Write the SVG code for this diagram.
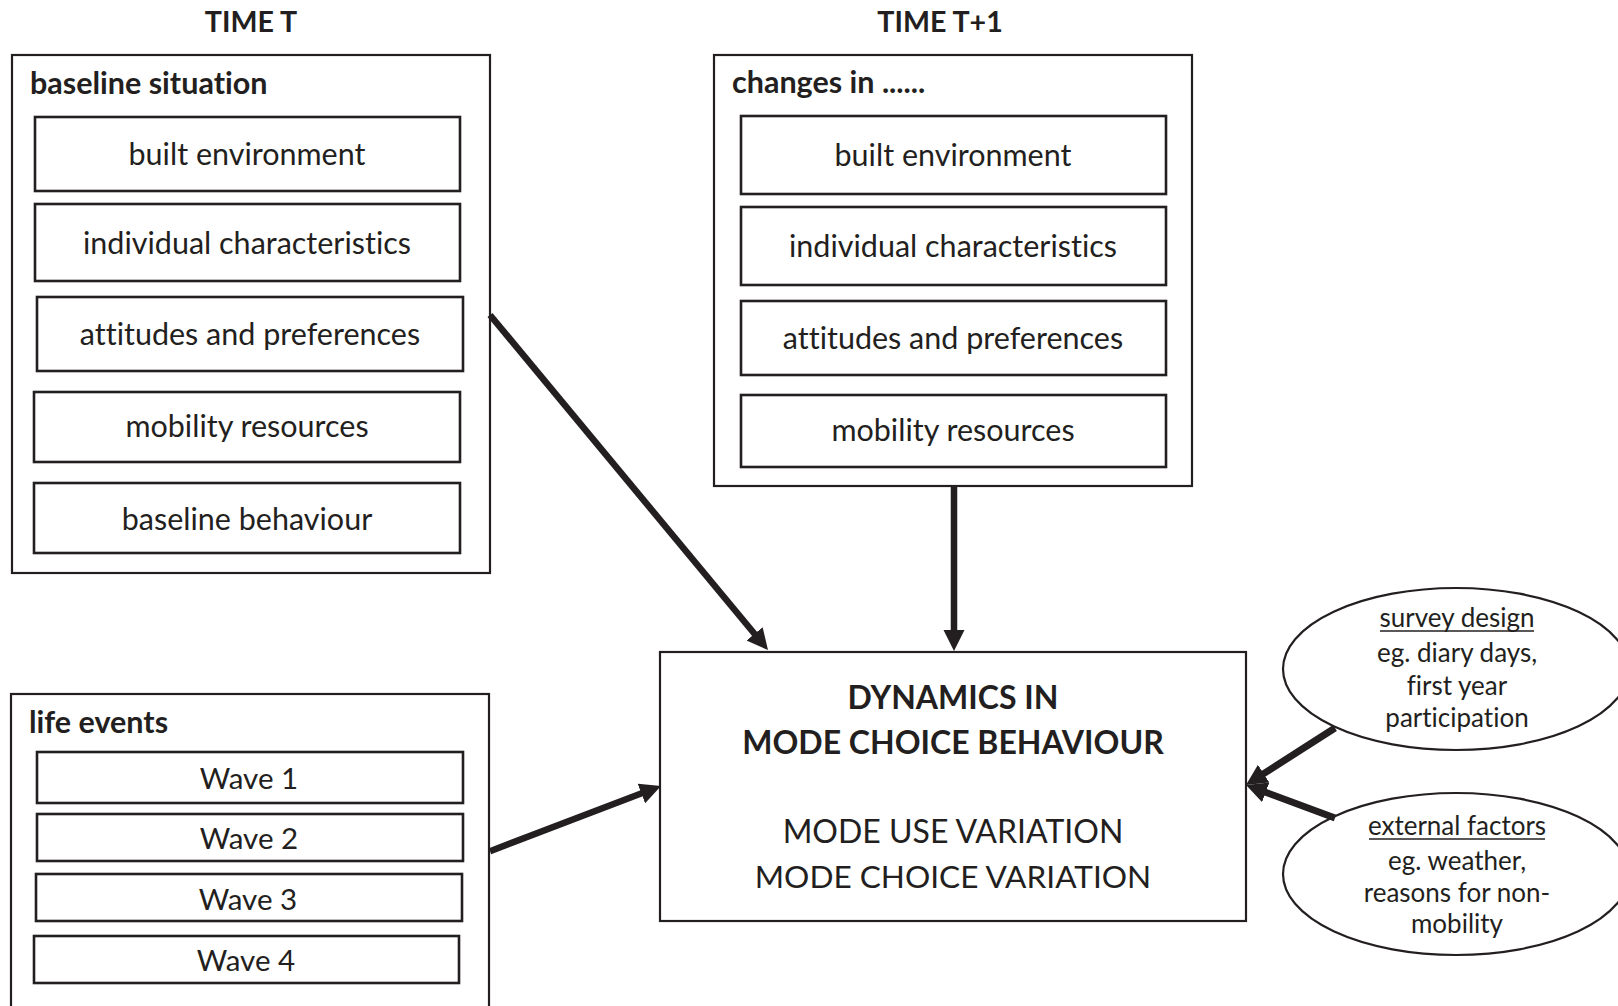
<svg xmlns="http://www.w3.org/2000/svg" width="1618" height="1006" viewBox="0 0 1618 1006">
<style>
text{font-family:Lato,"Open Sans",sans-serif;fill:#231f20;font-variant-ligatures:none}
.box{fill:#fff;stroke:#231f20;stroke-width:2.2}
.inner{fill:#fff;stroke:#231f20;stroke-width:2.6}
.t{font-size:30.5px;text-anchor:middle}
.w{font-size:29.5px;text-anchor:middle}
.h{font-size:30.5px;font-weight:bold}
.hc{font-size:28.6px;font-weight:bold;text-anchor:middle}
.big{font-size:32px;text-anchor:middle}
.bigb{font-size:32px;font-weight:bold;text-anchor:middle}
.e{font-size:26px;text-anchor:middle}
.ul{stroke:#231f20;stroke-width:1.6}
.arr{stroke:#231f20;stroke-width:6.5;fill:none}
.arr2{stroke:#231f20;stroke-width:7;fill:none}
</style>
<defs>
<marker id="ah" markerUnits="userSpaceOnUse" markerWidth="22" markerHeight="22" refX="6" refY="10.5" orient="auto">
<path d="M0,0 L21,10.5 L0,21 Z" fill="#231f20"/>
</marker>
</defs>

<text class="hc" x="251" y="32">TIME T</text>
<text class="hc" x="940" y="32">TIME T+1</text>

<g id="baseline">
<rect class="box" x="12" y="55" width="478" height="518"/>
<text class="h" x="30" y="94">baseline situation</text>
<g id="b-built"><rect class="inner" x="35" y="117" width="425" height="74"/><text class="t" x="247" y="165">built environment</text></g>
<g id="b-indiv"><rect class="inner" x="35" y="204" width="425" height="77"/><text class="t" x="247" y="254">individual characteristics</text></g>
<g id="b-att"><rect class="inner" x="37" y="297" width="426" height="74"/><text class="t" x="250" y="345">attitudes and preferences</text></g>
<g id="b-mob"><rect class="inner" x="34" y="392" width="426" height="70"/><text class="t" x="247" y="437">mobility resources</text></g>
<g id="b-beh"><rect class="inner" x="34" y="483" width="426" height="70"/><text class="t" x="247" y="530">baseline behaviour</text></g>
</g>

<g id="changes">
<rect class="box" x="714" y="55" width="478" height="431"/>
<text class="h" x="732" y="93">changes in ......</text>
<g id="c-built"><rect class="inner" x="741" y="116" width="425" height="78"/><text class="t" x="953" y="166">built environment</text></g>
<g id="c-indiv"><rect class="inner" x="741" y="207" width="425" height="78"/><text class="t" x="953" y="257">individual characteristics</text></g>
<g id="c-att"><rect class="inner" x="741" y="301" width="425" height="74"/><text class="t" x="953" y="349">attitudes and preferences</text></g>
<g id="c-mob"><rect class="inner" x="741" y="395" width="425" height="72"/><text class="t" x="953" y="441">mobility resources</text></g>
</g>

<g id="life">
<rect class="box" x="11" y="694" width="478" height="330"/>
<text class="h" x="29" y="733">life events</text>
<g id="w1"><rect class="inner" x="37" y="752" width="426" height="51"/><text class="w" x="249" y="789">Wave 1</text></g>
<g id="w2"><rect class="inner" x="37" y="814" width="426" height="47"/><text class="w" x="249" y="849">Wave 2</text></g>
<g id="w3"><rect class="inner" x="36" y="874" width="426" height="47"/><text class="w" x="248" y="910">Wave 3</text></g>
<g id="w4"><rect class="inner" x="34" y="936" width="425" height="47"/><text class="w" x="246" y="971">Wave 4</text></g>
</g>

<g id="dynamics">
<rect class="box" x="660" y="652" width="586" height="269"/>
<text class="bigb" x="953" y="709">DYNAMICS IN</text>
<text class="bigb" x="953" y="754">MODE CHOICE BEHAVIOUR</text>
<text class="big" x="953" y="843">MODE USE VARIATION</text>
<text class="big" x="953" y="888" style="font-size:31.6px">MODE CHOICE VARIATION</text>
</g>

<g id="survey">
<ellipse class="box" cx="1456" cy="669" rx="173" ry="81"/>
<text class="e" x="1457" y="627">survey design</text>
<line class="ul" x1="1380" y1="631" x2="1534" y2="631"/>
<text class="e" x="1457" y="662">eg. diary days,</text>
<text class="e" x="1457" y="695">first year</text>
<text class="e" x="1457" y="727">participation</text>
</g>

<g id="external">
<ellipse class="box" cx="1456" cy="874" rx="173" ry="81"/>
<text class="e" x="1457" y="835">external factors</text>
<line class="ul" x1="1369" y1="839" x2="1545" y2="839"/>
<text class="e" x="1457" y="870">eg. weather,</text>
<text class="e" x="1457" y="902">reasons for non-</text>
<text class="e" x="1457" y="933">mobility</text>
</g>

<g id="connectors">
<line class="arr" x1="490" y1="315" x2="758.4" y2="638.5" marker-end="url(#ah)"/>
<line class="arr" x1="954" y1="486" x2="954" y2="636" marker-end="url(#ah)"/>
<line class="arr" x1="490" y1="851.2" x2="647" y2="791.3" marker-end="url(#ah)"/>
<line class="arr2" x1="1335" y1="728" x2="1258.6" y2="776.9" marker-end="url(#ah)"/>
<line class="arr2" x1="1335" y1="818" x2="1260.1" y2="790.2" marker-end="url(#ah)"/>
</g>
</svg>
